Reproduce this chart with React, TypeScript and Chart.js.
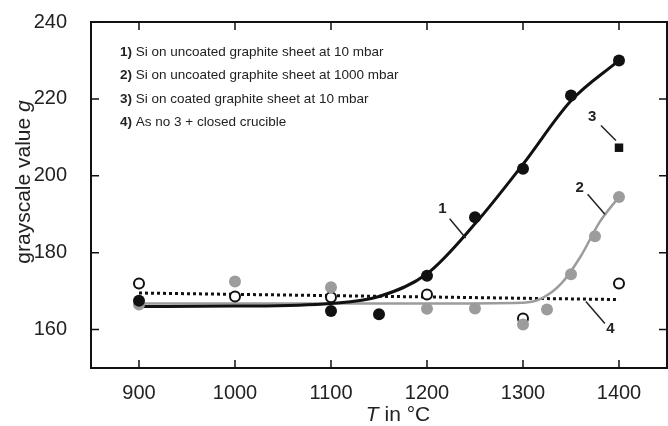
import React, { useEffect, useRef } from "react";
import { Chart, registerables } from "chart.js";

Chart.register(...registerables);

// ---- data ----
const xTicks = [900, 1000, 1100, 1200, 1300, 1400];
const yTicks = [160, 180, 200, 220, 240];

// series 1: Si on uncoated graphite sheet at 10 mbar (black filled circles)
const s1X = [900, 1100, 1150, 1200, 1250, 1300, 1350, 1400];
const s1Y = [167.5, 164.8, 164.0, 174.0, 189.2, 201.8, 220.9, 230.0];
// series 2: Si on uncoated graphite sheet at 1000 mbar (gray circles)
const s2X = [900, 1000, 1100, 1200, 1250, 1300, 1325, 1350, 1375, 1400];
const s2Y = [166.5, 172.5, 171.0, 165.4, 165.5, 161.3, 165.2, 174.4, 184.3, 194.5];
// series 3: Si on coated graphite sheet at 10 mbar (black square)
const s3X = [1400];
const s3Y = [207.3];
// series 4: as no 3 + closed crucible (open circles)
const s4X = [900, 1000, 1100, 1200, 1300, 1400];
const s4Y = [172.0, 168.6, 168.4, 169.1, 162.9, 172.0];

// fitted curves
const fit1X = [900, 1000, 1100, 1150, 1200, 1250, 1300, 1350, 1400];
const fit1Y = [166.0, 166.1, 166.8, 168.6, 174.5, 187.5, 203.0, 219.5, 230.0];
const fit2X = [900, 1000, 1100, 1200, 1300, 1320, 1340, 1360, 1380, 1400];
const fit2Y = [166.8, 166.8, 166.8, 166.8, 167.0, 168.2, 172.0, 179.0, 188.0, 194.5];
const fit4X = [900, 1400];
const fit4Y = [169.5, 167.8];

const legendNums = ["1)", "2)", "3)", "4)"];
const legendTexts = [
  " Si on uncoated graphite sheet at 10 mbar",
  " Si on uncoated graphite sheet at 1000 mbar",
  " Si on coated graphite sheet at 10 mbar",
  " As no 3 + closed crucible",
];

const zip = (xs: number[], ys: number[]) => xs.map((x, i) => ({ x, y: ys[i] }));

const GRAY = "#9c9c9c";
const FONT = "'Liberation Sans', Arial, sans-serif";

const decorPlugin = {
  id: "decor",
  afterDraw(chart: any) {
    const { ctx, chartArea: a, scales } = chart;
    const xs = scales.x;
    const ys = scales.y;
    ctx.save();
    // frame
    ctx.strokeStyle = "#111";
    ctx.lineWidth = 2;
    ctx.strokeRect(a.left, a.top, a.right - a.left, a.bottom - a.top);
    // inward ticks on all sides
    ctx.lineWidth = 1.5;
    const tl = 8;
    xTicks.forEach((v) => {
      const px = xs.getPixelForValue(v);
      ctx.beginPath();
      ctx.moveTo(px, a.bottom);
      ctx.lineTo(px, a.bottom - tl);
      ctx.moveTo(px, a.top);
      ctx.lineTo(px, a.top + tl);
      ctx.stroke();
    });
    yTicks.forEach((v) => {
      const py = ys.getPixelForValue(v);
      ctx.beginPath();
      ctx.moveTo(a.left, py);
      ctx.lineTo(a.left + tl, py);
      ctx.moveTo(a.right, py);
      ctx.lineTo(a.right - tl, py);
      ctx.stroke();
    });

    // legend text
    ctx.fillStyle = "#222";
    ctx.textBaseline = "middle";
    ctx.textAlign = "left";
    legendTexts.forEach((t, i) => {
      const x0 = a.left + 29;
      const y0 = a.top + 30 + i * 23.5;
      ctx.font = `bold 13.5px ${FONT}`;
      ctx.fillText(legendNums[i], x0, y0);
      const w = ctx.measureText(legendNums[i]).width;
      ctx.font = `13.5px ${FONT}`;
      ctx.fillText(t, x0 + w, y0);
    });

    // curve labels with leader lines (data coordinates)
    const labels = [
      { t: "1", lx: 1216, ly: 191.4, x1: 1223.6, y1: 188.8, x2: 1240.3, y2: 183.8 },
      { t: "2", lx: 1359, ly: 196.9, x1: 1367.3, y1: 195.2, x2: 1385.3, y2: 190.0 },
      { t: "3", lx: 1372, ly: 215.2, x1: 1381.2, y1: 213.1, x2: 1396.8, y2: 209.2 },
      { t: "4", lx: 1391, ly: 160.2, x1: 1365.5, y1: 167.3, x2: 1385.3, y2: 161.6 },
    ];
    ctx.font = `bold 15px ${FONT}`;
    ctx.textAlign = "center";
    ctx.lineWidth = 1.5;
    ctx.strokeStyle = "#222";
    labels.forEach((l) => {
      ctx.fillText(l.t, xs.getPixelForValue(l.lx), ys.getPixelForValue(l.ly));
      ctx.beginPath();
      ctx.moveTo(xs.getPixelForValue(l.x1), ys.getPixelForValue(l.y1));
      ctx.lineTo(xs.getPixelForValue(l.x2), ys.getPixelForValue(l.y2));
      ctx.stroke();
    });

    // axis titles with italic symbols
    ctx.fillStyle = "#222";
    ctx.textBaseline = "middle";
    const titleSize = 21;
    // y title
    ctx.save();
    ctx.translate(24, 182);
    ctx.rotate(-Math.PI / 2);
    ctx.font = `${titleSize}px ${FONT}`;
    const yt1 = "grayscale value ";
    const w1 = ctx.measureText(yt1).width;
    ctx.font = `italic ${titleSize}px ${FONT}`;
    const w2 = ctx.measureText("g").width;
    const start = -(w1 + w2) / 2;
    ctx.textAlign = "left";
    ctx.font = `${titleSize}px ${FONT}`;
    ctx.fillText(yt1, start, 0);
    ctx.font = `italic ${titleSize}px ${FONT}`;
    ctx.fillText("g", start + w1, 0);
    ctx.restore();
    // x title
    ctx.font = `italic ${titleSize}px ${FONT}`;
    const wT = ctx.measureText("T").width;
    ctx.font = `${titleSize}px ${FONT}`;
    const xt = " in °C";
    const wR = ctx.measureText(xt).width;
    const cx = 398;
    const sx = cx - (wT + wR) / 2;
    ctx.textAlign = "left";
    ctx.font = `italic ${titleSize}px ${FONT}`;
    ctx.fillText("T", sx, 415);
    ctx.font = `${titleSize}px ${FONT}`;
    ctx.fillText(xt, sx + wT, 415);
    ctx.restore();
  },
};

export default function App() {
  const ref = useRef<HTMLCanvasElement | null>(null);
  useEffect(() => {
    document.body.style.margin = "0";
    if (!ref.current) return;
    const chart = new Chart(ref.current, {
      type: "scatter",
      data: {
        datasets: [
          {
            label: "fit4",
            data: zip(fit4X, fit4Y),
            showLine: true,
            borderColor: "#111",
            borderWidth: 3,
            borderDash: [3, 3],
            pointRadius: 0,
            order: 6,
          },
          {
            label: "fit2",
            data: zip(fit2X, fit2Y),
            showLine: true,
            borderColor: GRAY,
            borderWidth: 2.5,
            cubicInterpolationMode: "monotone",
            pointRadius: 0,
            order: 5,
          },
          {
            label: "fit1",
            data: zip(fit1X, fit1Y),
            showLine: true,
            borderColor: "#111",
            borderWidth: 3,
            cubicInterpolationMode: "monotone",
            pointRadius: 0,
            order: 4,
          },
          {
            label: "4",
            data: zip(s4X, s4Y),
            pointStyle: "circle",
            pointRadius: 5,
            backgroundColor: "#fff",
            borderColor: "#111",
            borderWidth: 2,
            order: 3,
          },
          {
            label: "2",
            data: zip(s2X, s2Y),
            pointStyle: "circle",
            pointRadius: 6,
            backgroundColor: GRAY,
            borderColor: GRAY,
            borderWidth: 0,
            order: 2,
          },
          {
            label: "1",
            data: zip(s1X, s1Y),
            pointStyle: "circle",
            pointRadius: 6,
            backgroundColor: "#111",
            borderColor: "#111",
            borderWidth: 0,
            order: 1,
          },
          {
            label: "3",
            data: zip(s3X, s3Y),
            pointStyle: "rect",
            pointRadius: 6,
            backgroundColor: "#111",
            borderColor: "#111",
            borderWidth: 0,
            order: 0,
          },
        ],
      },
      options: {
        animation: false,
        responsive: false,
        maintainAspectRatio: false,
        layout: { autoPadding: false, padding: { top: 22, right: 1, left: 0, bottom: 0 } },
        plugins: { legend: { display: false }, tooltip: { enabled: false } },
        scales: {
          x: {
            type: "linear",
            min: 850,
            max: 1450,
            afterBuildTicks: (s: any) => {
              s.ticks = xTicks.map((v) => ({ value: v }));
            },
            afterFit: (s: any) => {
              s.height = 58;
              s.paddingLeft = 0;
              s.paddingRight = 0;
            },
            grid: { display: false, drawTicks: false },
            border: { display: false },
            ticks: {
              color: "#222",
              font: { family: FONT, size: 20 },
              padding: 13,
              maxRotation: 0,
              callback: (v: any) => String(v),
            },
          },
          y: {
            type: "linear",
            min: 150,
            max: 240,
            afterBuildTicks: (s: any) => {
              s.ticks = yTicks.map((v) => ({ value: v }));
            },
            afterFit: (s: any) => {
              s.width = 91;
              s.paddingTop = 0;
              s.paddingBottom = 0;
            },
            grid: { display: false, drawTicks: false },
            border: { display: false },
            ticks: {
              color: "#222",
              font: { family: FONT, size: 20 },
              padding: 24,
              callback: (v: any) => String(v),
            },
          },
        },
      },
      plugins: [decorPlugin],
    } as any);
    return () => chart.destroy();
  }, []);
  return (
    <div style={{ width: 668, height: 426 }}>
      <canvas ref={ref} width={668} height={426} style={{ display: "block" }} />
    </div>
  );
}
